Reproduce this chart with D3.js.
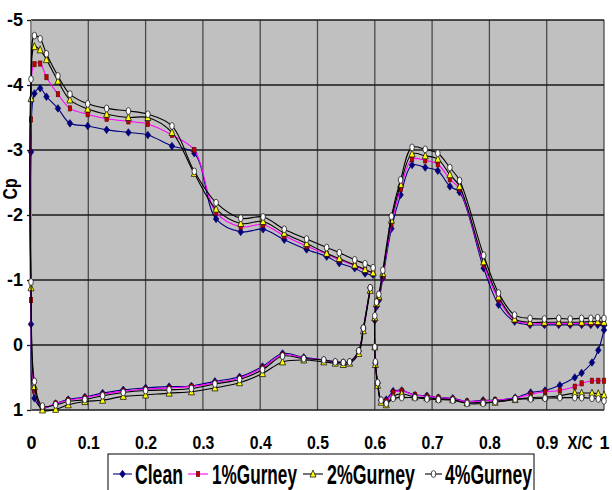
<!DOCTYPE html>
<html>
<head>
<meta charset="utf-8">
<script src="https://cdn.jsdelivr.net/npm/d3@7"></script>
<style>
  html, body { margin: 0; padding: 0; background: #fff; }
  text { font-family: "Liberation Sans", Arial, sans-serif; font-weight: bold; fill: #000; }
</style>
</head>
<body>
<svg id="chart" width="612" height="490"></svg>
<script>
// ---- data -------------------------------------------------------------
const seriesNames = ["Clean", "1%Gurney", "2%Gurney", "4%Gurney"];

const yTicks = [-5, -4, -3, -2, -1, 0, 1];
const yTickLabels = ["-5", "-4", "-3", "-2", "-1", "0", "1"];
const xTicks = [0, 0.1, 0.2, 0.3, 0.4, 0.5, 0.6, 0.7, 0.8, 0.9, 1];
const xTickLabels = ["0", "0.1", "0.2", "0.3", "0.4", "0.5", "0.6", "0.7", "0.8", "0.9", "1"];

// main element, upper surface (leading edge -> trailing edge)
const mainUpperX = [0, 0.006, 0.016, 0.027, 0.047, 0.068, 0.099, 0.132, 0.170, 0.204, 0.246, 0.285,
                    0.323, 0.366, 0.405, 0.442, 0.481, 0.516, 0.538, 0.565, 0.583, 0.597];
const cleanMainUpper = [-2.97, -3.87, -3.95, -3.82, -3.64, -3.41, -3.37, -3.31, -3.27, -3.23, -3.06, -2.95,
                        -1.94, -1.74, -1.78, -1.62, -1.47, -1.36, -1.26, -1.18, -1.10, -1.08];
const g1MainUpper = [-3.47, -4.32, -4.33, -4.12, -3.86, -3.64, -3.55, -3.48, -3.44, -3.40, -3.23, -3.00,
                     -2.04, -1.82, -1.85, -1.68, -1.52, -1.40, -1.31, -1.22, -1.15, -1.11];
const g2MainUpper = [-3.79, -4.59, -4.54, -4.39, -4.06, -3.77, -3.63, -3.55, -3.50, -3.50, -3.27, -2.64,
                     -2.09, -1.87, -1.90, -1.72, -1.56, -1.41, -1.33, -1.23, -1.16, -1.11];
const g4MainUpper = [-4.09, -4.76, -4.71, -4.48, -4.14, -3.86, -3.71, -3.64, -3.60, -3.55, -3.37, -2.67,
                     -2.19, -1.95, -1.97, -1.78, -1.63, -1.50, -1.42, -1.31, -1.25, -1.19];

// main element, lower surface (leading edge -> trailing edge)
const mainLowerX = [0, 0.006, 0.020, 0.043, 0.065, 0.094, 0.125, 0.161, 0.200, 0.241, 0.280, 0.321,
                    0.364, 0.404, 0.439, 0.476, 0.511, 0.531, 0.545, 0.556, 0.572, 0.580, 0.592];
const cleanMainLower = [-0.32, 0.82, 0.97, 0.90, 0.84, 0.80, 0.74, 0.69, 0.66, 0.64, 0.63, 0.56,
                        0.49, 0.33, 0.13, 0.19, 0.23, 0.26, 0.27, 0.26, 0.09, -0.26, -0.88];
const g1MainLower = [-0.69, 0.70, 0.96, 0.90, 0.85, 0.81, 0.76, 0.71, 0.68, 0.66, 0.64, 0.58,
                     0.51, 0.35, 0.15, 0.20, 0.23, 0.26, 0.27, 0.26, 0.09, -0.26, -0.88];
const g2MainLower = [-0.88, 0.64, 1.00, 0.99, 0.92, 0.87, 0.85, 0.79, 0.77, 0.74, 0.72, 0.66,
                     0.58, 0.44, 0.26, 0.23, 0.26, 0.28, 0.30, 0.28, 0.13, -0.22, -0.84];
const g4MainLower = [-0.97, 0.56, 0.94, 0.92, 0.87, 0.84, 0.78, 0.73, 0.70, 0.69, 0.67, 0.60,
                     0.53, 0.38, 0.17, 0.21, 0.23, 0.26, 0.27, 0.26, 0.09, -0.26, -0.88];

// flap, upper surface (leading edge -> trailing edge)
const flapUpperX = [0.600, 0.600, 0.603, 0.607, 0.614, 0.629, 0.645, 0.665, 0.688, 0.710, 0.731, 0.748,
                    0.790, 0.816, 0.844, 0.871, 0.896, 0.921, 0.941, 0.961, 0.977, 0.989, 1.000];
const cleanFlapUpper = [0.03, -0.38, -0.59, -0.69, -1.03, -1.79, -2.31, -2.77, -2.73, -2.68, -2.44, -2.35,
                        -1.18, -0.62, -0.36, -0.31, -0.31, -0.31, -0.31, -0.31, -0.31, -0.31, -0.30];
const g1FlapUpper = [0.03, -0.40, -0.62, -0.72, -1.06, -1.86, -2.40, -2.86, -2.84, -2.78, -2.55, -2.40,
                     -1.24, -0.70, -0.38, -0.33, -0.33, -0.33, -0.33, -0.33, -0.33, -0.34, -0.34];
const g2FlapUpper = [0.03, -0.42, -0.64, -0.75, -1.10, -1.92, -2.47, -2.94, -2.91, -2.86, -2.62, -2.44,
                     -1.28, -0.74, -0.40, -0.35, -0.35, -0.35, -0.35, -0.35, -0.36, -0.36, -0.35];
const g4FlapUpper = [0.03, -0.45, -0.66, -0.78, -1.15, -1.98, -2.54, -3.04, -3.01, -2.95, -2.73, -2.53,
                     -1.38, -0.80, -0.46, -0.41, -0.40, -0.41, -0.40, -0.41, -0.41, -0.42, -0.41];

// flap, lower surface (leading edge -> trailing edge)
const flapLowerX = [0.600, 0.601, 0.605, 0.611, 0.620, 0.632, 0.647, 0.670, 0.691, 0.711, 0.736, 0.761,
                    0.789, 0.810, 0.845, 0.872, 0.897, 0.923, 0.949, 0.961, 0.979, 0.990, 1.000];
const cleanFlapLower = [0.03, 0.28, 0.59, 0.85, 0.84, 0.71, 0.70, 0.77, 0.78, 0.81, 0.82, 0.87,
                        0.85, 0.85, 0.81, 0.73, 0.70, 0.62, 0.50, 0.43, 0.27, 0.08, -0.23];
const g1FlapLower = [0.03, 0.28, 0.59, 0.85, 0.86, 0.73, 0.71, 0.77, 0.79, 0.81, 0.83, 0.87,
                     0.86, 0.85, 0.82, 0.76, 0.72, 0.70, 0.64, 0.59, 0.55, 0.55, 0.55];
const g2FlapLower = [0.03, 0.30, 0.62, 0.88, 0.92, 0.79, 0.75, 0.80, 0.81, 0.83, 0.84, 0.89,
                     0.88, 0.88, 0.84, 0.81, 0.80, 0.78, 0.74, 0.74, 0.74, 0.75, 0.77];
const g4FlapLower = [0.03, 0.26, 0.58, 0.85, 0.90, 0.82, 0.81, 0.81, 0.83, 0.84, 0.85, 0.90,
                     0.90, 0.87, 0.83, 0.83, 0.82, 0.81, 0.81, 0.81, 0.82, 0.83, 0.86];

// ---- series assembly --------------------------------------------------
const zip = (xs, ys) => xs.map((v, i) => [v, ys[i]]);
function element(upX, up, loX, lo, dropShared) {
  // trailing edge (lower) -> leading edge -> trailing edge (upper)
  const lower = zip(loX, lo).reverse();
  const upper = zip(upX, up);
  return dropShared ? lower.concat(upper.slice(1)) : lower.concat(upper);
}
const series = [
  { name: seriesNames[0], line: "#000080", marker: "diamond", fill: "#000080", stroke: "#000060",
    parts: [element(mainUpperX, cleanMainUpper, mainLowerX, cleanMainLower, false),
            element(flapUpperX, cleanFlapUpper, flapLowerX, cleanFlapLower, true)] },
  { name: seriesNames[1], line: "#FF00FF", marker: "square", fill: "#C00000", stroke: "#600000",
    parts: [element(mainUpperX, g1MainUpper, mainLowerX, g1MainLower, false),
            element(flapUpperX, g1FlapUpper, flapLowerX, g1FlapLower, true)] },
  { name: seriesNames[2], line: "#000000", marker: "triangle", fill: "#FFFF00", stroke: "#000000",
    parts: [element(mainUpperX, g2MainUpper, mainLowerX, g2MainLower, false),
            element(flapUpperX, g2FlapUpper, flapLowerX, g2FlapLower, true)] },
  { name: seriesNames[3], line: "#000000", marker: "circle", fill: "#FFFFFF", stroke: "#000000",
    parts: [element(mainUpperX, g4MainUpper, mainLowerX, g4MainLower, false),
            element(flapUpperX, g4FlapUpper, flapLowerX, g4FlapLower, true)] }
];

// ---- layout -----------------------------------------------------------
const svg = d3.select("#chart");
const x = d3.scaleLinear().domain([0, 1]).range([31, 604]);
const y = d3.scaleLinear().domain([-5, 1]).range([20, 410]);

// squeeze a text element horizontally to a target width (narrow lettering)
function squeeze(node, width) {
  const w = node.getComputedTextLength();
  if (w > width) {
    const prev = node.getAttribute("transform") || "";
    node.setAttribute("transform", `${prev} scale(${(width / w).toFixed(4)},1)`.trim());
  }
}

// plot area
svg.append("rect")
  .attr("x", x(0)).attr("y", y(-5))
  .attr("width", x(1) - x(0)).attr("height", y(1) - y(-5))
  .attr("fill", "#C0C0C0");

// grid
svg.append("g").selectAll("line").data(xTicks.slice(1)).join("line")
  .attr("x1", d => x(d)).attr("x2", d => x(d))
  .attr("y1", y(-5)).attr("y2", y(1))
  .attr("stroke", "#4a4a4a").attr("stroke-width", 1.3);
svg.append("g").selectAll("line").data(yTicks).join("line")
  .attr("x1", x(0)).attr("x2", x(1))
  .attr("y1", d => y(d)).attr("y2", d => y(d))
  .attr("stroke", "#1a1a1a").attr("stroke-width", 1.3);
svg.append("line")
  .attr("x1", x(0)).attr("x2", x(0)).attr("y1", y(-5)).attr("y2", y(1))
  .attr("stroke", "#8c8c8c").attr("stroke-width", 2);

// y axis
const yAxis = svg.append("g").attr("transform", `translate(${x(0)},0)`)
  .call(d3.axisLeft(y).tickValues(yTicks).tickSize(4).tickPadding(4)
        .tickFormat((d, i) => yTickLabels[i]));
yAxis.select(".domain").remove();
yAxis.selectAll(".tick line").attr("stroke", "#1a1a1a").attr("stroke-width", 1.3);
yAxis.selectAll(".tick text")
  .attr("font-family", "Liberation Sans, Arial, sans-serif")
  .attr("font-weight", "bold").attr("font-size", 18).attr("fill", "#000");

// x axis labels
const xAxis = svg.append("g").attr("transform", `translate(0,${y(1)})`)
  .call(d3.axisBottom(x).tickValues(xTicks).tickSize(0)
        .tickFormat((d, i) => xTickLabels[i]));
xAxis.select(".domain").remove();
xAxis.selectAll(".tick text")
  .attr("y", 39).attr("dy", null)
  .attr("font-family", "Liberation Sans, Arial, sans-serif")
  .attr("font-weight", "bold").attr("font-size", 18).attr("fill", "#000")
  .each(function () { squeeze(this, 22); });

// axis titles
svg.append("text")
  .attr("transform", "translate(580,449)").attr("text-anchor", "middle")
  .attr("font-size", 18).text("X/C")
  .each(function () { squeeze(this, 25); });
svg.append("text")
  .attr("transform", "translate(17,189) rotate(-90)")
  .attr("text-anchor", "middle").attr("font-size", 20).text("Cp")
  .each(function () { squeeze(this, 21); });

// ---- marks ------------------------------------------------------------
const line = d3.line().x(d => x(d[0])).y(d => y(d[1])).curve(d3.curveCatmullRom.alpha(0.5));

function drawMarker(g, kind, cx, cy, fill, stroke) {
  if (kind === "diamond") {
    g.append("path").attr("d", `M${cx},${cy - 3.8}L${cx + 2.8},${cy}L${cx},${cy + 3.8}L${cx - 2.8},${cy}Z`)
      .attr("fill", fill).attr("stroke", stroke).attr("stroke-width", 0.6);
  } else if (kind === "square") {
    g.append("rect").attr("x", cx - 1.7).attr("y", cy - 2.6).attr("width", 3.4).attr("height", 5.2)
      .attr("fill", fill).attr("stroke", stroke).attr("stroke-width", 0.6);
  } else if (kind === "triangle") {
    g.append("path").attr("d", `M${cx},${cy - 4}L${cx + 3},${cy + 3}L${cx - 3},${cy + 3}Z`)
      .attr("fill", fill).attr("stroke", stroke).attr("stroke-width", 0.7);
  } else {
    g.append("ellipse").attr("cx", cx).attr("cy", cy).attr("rx", 2.3).attr("ry", 3.4)
      .attr("fill", fill).attr("stroke", stroke).attr("stroke-width", 0.7);
  }
}

series.forEach(s => {
  const g = svg.append("g");
  s.parts.forEach(pts => {
    g.append("path").datum(pts).attr("d", line)
      .attr("fill", "none").attr("stroke", s.line).attr("stroke-width", 1.1);
  });
  s.parts.forEach(pts => {
    pts.forEach(p => drawMarker(g, s.marker, x(p[0]), y(p[1]), s.fill, s.stroke));
  });
});

// ---- legend -----------------------------------------------------------
const legend = svg.append("g");
legend.append("rect")
  .attr("x", 108).attr("y", 454).attr("width", 426).attr("height", 50)
  .attr("fill", "#fff").attr("stroke", "#000").attr("stroke-width", 1);
const legendLayout = [
  { x0: 113, x1: 132, text: 135, len: 48 },
  { x0: 188, x1: 208, text: 212, len: 85 },
  { x0: 303, x1: 323, text: 327, len: 88 },
  { x0: 425, x1: 442, text: 445, len: 87 }
];
series.forEach((s, i) => {
  const L = legendLayout[i];
  legend.append("line").attr("x1", L.x0).attr("x2", L.x1).attr("y1", 474).attr("y2", 474)
    .attr("stroke", s.line).attr("stroke-width", 1.1);
  drawMarker(legend, s.marker, (L.x0 + L.x1) / 2, 474, s.fill, s.stroke);
  legend.append("text").attr("transform", `translate(${L.text},484)`)
    .attr("font-size", 28).text(s.name)
    .each(function () { squeeze(this, L.len); });
});
</script>
</body>
</html>
